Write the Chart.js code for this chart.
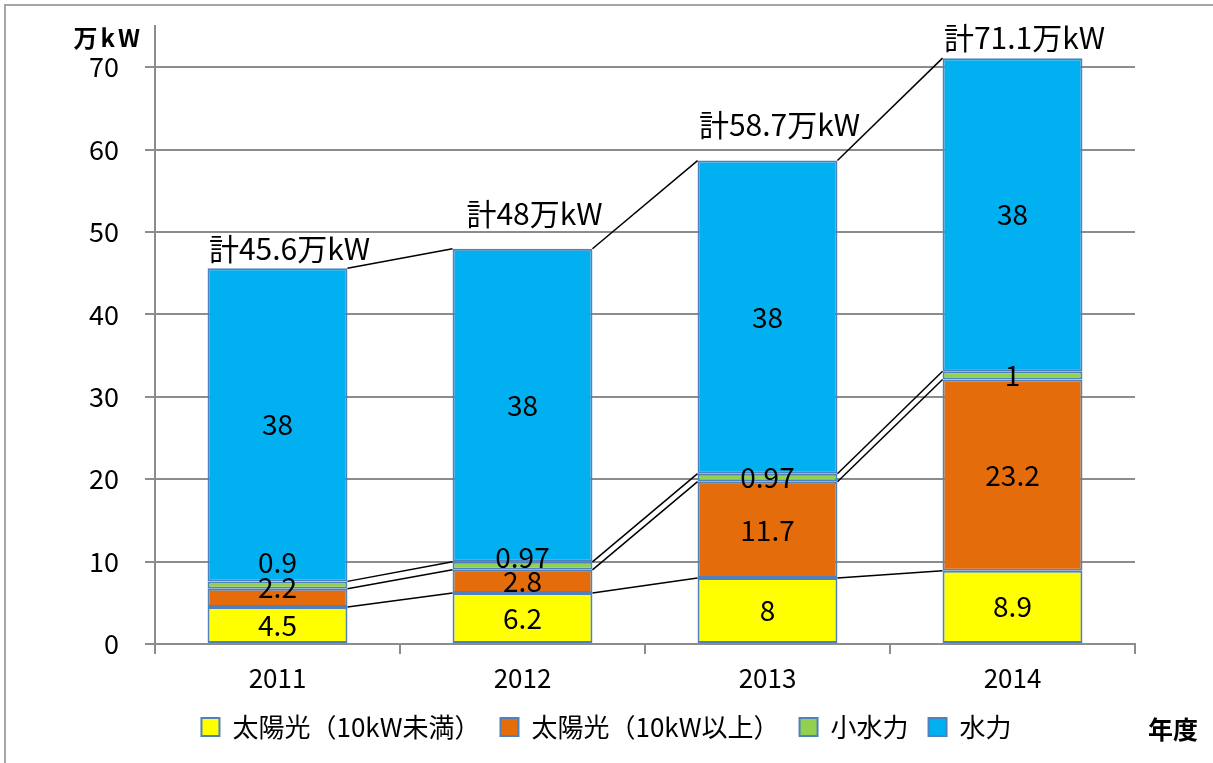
<!DOCTYPE html>
<html>
<head>
<meta charset="utf-8">
<script src="https://cdn.jsdelivr.net/npm/chart.js@4.4.1/dist/chart.umd.min.js"></script>
<style>
  html, body { margin: 0; padding: 0; background: #fff; }
  #wrap { position: relative; width: 1213px; height: 763px; overflow: hidden; }
  #frame { position: absolute; left: 4px; top: 4px; width: 1400px; height: 1000px; border: 2px solid #a6a6a6; }
  canvas { position: absolute; left: 0; top: 0; }
</style>
</head>
<body>
<div id="wrap">
  <div id="frame"></div>
  <canvas id="chart" width="1213" height="763"></canvas>
</div>
<script>
// data (万kW)
const years = ["2011", "2012", "2013", "2014"];
const solarSmall = [4.5, 6.2, 8, 8.9];      // 太陽光（10kW未満）
const solarLarge = [2.2, 2.8, 11.7, 23.2];  // 太陽光（10kW以上）
const smallHydro = [0.9, 0.97, 0.97, 1];    // 小水力
const hydro = [38, 38, 38, 38];             // 水力
const totals = [45.6, 48, 58.7, 71.1];
const yTicks = [0, 10, 20, 30, 40, 50, 60, 70];
const yMax = 75;

const FONT = '"Noto Sans CJK JP", sans-serif';
const BORDER = "#4f81bd";
const GRID = "#8c8c8c";

// small vertical nudges for labels that would collide (dataset -> [per bar px])
const labelNudge = { 1: [-10, 0, 0, 0], 2: [-23, -8, 0, 0] };
const totalLift = [20, 35, 36, 21];

// Excel-like series lines between stacked bars
const seriesLines = {
  id: "seriesLines",
  afterDatasetsDraw(chart) {
    const ctx = chart.ctx;
    ctx.save();
    ctx.strokeStyle = "#000";
    ctx.lineWidth = 1.5;
    chart.data.datasets.forEach((ds, di) => {
      const bars = chart.getDatasetMeta(di).data;
      for (let i = 0; i < bars.length - 1; i++) {
        const a = bars[i].getProps(["x", "y", "width"], true);
        const b = bars[i + 1].getProps(["x", "y", "width"], true);
        ctx.beginPath();
        ctx.moveTo(a.x + a.width / 2, a.y);
        ctx.lineTo(b.x - b.width / 2, b.y);
        ctx.stroke();
      }
    });
    ctx.restore();
  }
};

// value labels inside segments + totals on top
const barLabels = {
  id: "barLabels",
  afterDatasetsDraw(chart) {
    const ctx = chart.ctx;
    ctx.save();
    ctx.fillStyle = "#000";
    ctx.textAlign = "center";
    ctx.textBaseline = "middle";
    ctx.font = "28px " + FONT;
    chart.data.datasets.forEach((ds, di) => {
      chart.getDatasetMeta(di).data.forEach((bar, i) => {
        const p = bar.getProps(["x", "y", "base"], true);
        const dy = labelNudge[di] ? labelNudge[di][i] : 0;
        ctx.fillText(String(ds.data[i]), p.x, (p.y + p.base) / 2 + dy);
      });
    });
    // totals
    const top = chart.getDatasetMeta(chart.data.datasets.length - 1).data;
    ctx.font = "30px " + FONT;
    top.forEach((bar, i) => {
      const p = bar.getProps(["x"], true);
      const y = chart.scales.y.getPixelForValue(totals[i]);
      ctx.fillText("計" + totals[i] + "万kW", p.x + 12, y - totalLift[i]);
    });
    // unit and axis captions
    ctx.font = "bold 24px " + FONT;
    ctx.textAlign = "right";
    ctx.letterSpacing = "3px";
    ctx.fillText("万kW", 143, 38);
    ctx.letterSpacing = "0px";
    ctx.font = "bold 25px " + FONT;
    ctx.textAlign = "left";
    ctx.fillText("年度", 1148, 729);
    ctx.restore();
  }
};

const ctx = document.getElementById("chart").getContext("2d");
new Chart(ctx, {
  type: "bar",
  data: {
    labels: years,
    datasets: [
      { label: "太陽光（10kW未満）", data: solarSmall, backgroundColor: "#ffff00" },
      { label: "太陽光（10kW以上）", data: solarLarge, backgroundColor: "#e46c0a" },
      { label: "小水力", data: smallHydro, backgroundColor: "#92d050" },
      { label: "水力", data: hydro, backgroundColor: "#00b0f0" }
    ].map((d) => ({
      ...d,
      borderColor: BORDER,
      borderWidth: 2,
      borderSkipped: false,
      barPercentage: 0.571,
      categoryPercentage: 1
    }))
  },
  options: {
    responsive: false,
    animation: false,
    layout: { padding: { top: 26, left: 0, right: 0, bottom: 13 } },
    plugins: {
      tooltip: { enabled: false },
      legend: {
        position: "bottom",
        labels: {
          color: "#000",
          font: { family: FONT, size: 26 },
          boxWidth: 18,
          boxHeight: 18,
          padding: 20
        }
      }
    },
    scales: {
      x: {
        stacked: true,
        grid: { drawOnChartArea: false, color: GRID, lineWidth: 2, tickLength: 10 },
        border: { color: GRID, width: 2 },
        ticks: { color: "#000", font: { family: FONT, size: 26 }, padding: 9 },
        afterFit(s) { s.height = 50; }
      },
      y: {
        stacked: true,
        min: 0,
        max: yMax,
        afterBuildTicks(s) { s.ticks = yTicks.map((v) => ({ value: v })); },
        grid: { color: GRID, lineWidth: 2, tickLength: 10 },
        border: { color: GRID, width: 2 },
        ticks: { color: "#000", font: { family: FONT, size: 27 }, padding: 26 },
        afterFit(s) {
          s.width = 155;
          s.paddingTop = 0;
          s.paddingBottom = 0;
        }
      },
      pad: {
        position: "right",
        display: true,
        grid: { display: false },
        border: { display: false },
        ticks: { display: false },
        afterFit(s) { s.width = 78; }
      }
    }
  },
  plugins: [seriesLines, barLabels]
});
</script>
</body>
</html>
